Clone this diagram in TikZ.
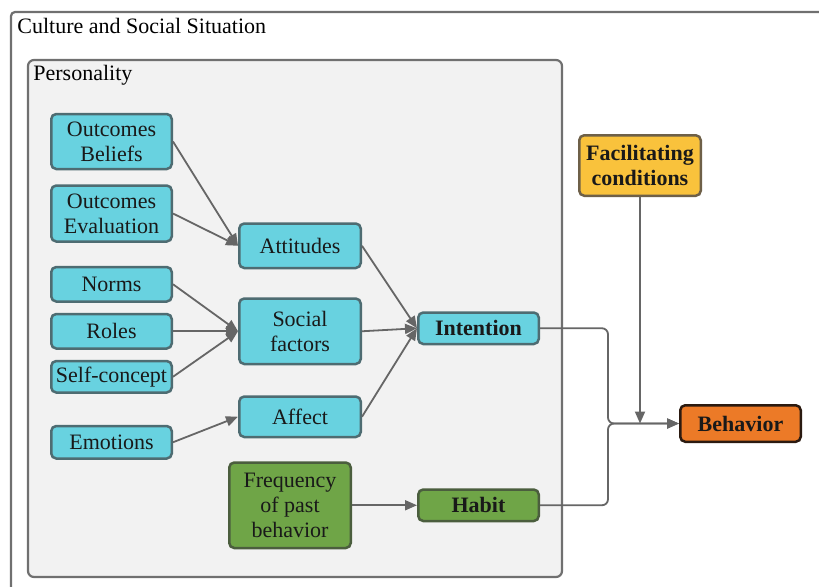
\documentclass[tikz,border=0pt]{standalone}
\usepackage{fontspec}
\setmainfont{Liberation Serif}
\usetikzlibrary{positioning, arrows.meta}

\definecolor{factorfill}{HTML}{68D2E0}
\definecolor{factordraw}{HTML}{4E6C72}
\definecolor{habitfill}{HTML}{6FA547}
\definecolor{habitdraw}{HTML}{4B5E3E}
\definecolor{condfill}{HTML}{F9C23C}
\definecolor{conddraw}{HTML}{6E6048}
\definecolor{actfill}{HTML}{EC7A27}
\definecolor{actdraw}{HTML}{2B1A10}
\definecolor{framedraw}{HTML}{707070}
\definecolor{framefill}{HTML}{F2F2F2}
\definecolor{linkgray}{HTML}{666666}

\begin{document}
\begin{tikzpicture}[
    x = 1pt, y = 1pt,
    > = {Triangle[length = 6pt, width = 5pt]},
    font = \fontsize{11}{12.5}\selectfont,
    link/.style   = {->, draw = linkgray, fill = linkgray, line width = .9pt},
    box/.style    = {rectangle, rounded corners = 2.5pt, line width = 1.25pt,
                     align = center, inner sep = 2pt, minimum width = 60.25pt,
                     text = black!90},
    factor/.style = {box, draw = factordraw, fill = factorfill},
    habit/.style  = {box, draw = habitdraw, fill = habitfill},
    cond/.style   = {box, draw = conddraw, fill = condfill, font = \fontsize{11}{12.5}\selectfont\bfseries},
    act/.style    = {box, draw = actdraw, fill = actfill, font = \fontsize{11}{12.5}\selectfont\bfseries}
]

\useasboundingbox (0,0) rectangle (409.5,-293);
\fill[white] (0,0) rectangle (409.5,-293);

% Frames
\draw[framedraw, line width = 1.1pt, rounded corners = 2pt] (5.5,-6) rectangle (420,-305);
\node[anchor = base west, inner sep = 0pt] (culture) at (8.5,-16.5) {Culture and Social Situation};
\draw[framedraw, fill = framefill, line width = 1.1pt, rounded corners = 3pt] (14,-30) rectangle (281,-288.5);
\node[anchor = base west, inner sep = 0pt] (person) at (16.5,-40) {Personality};

% Left column
\node[factor, minimum height = 27.5pt] (beliefs) at (55.75,-70.75) {Outcomes\\Beliefs};
\node[factor, minimum height = 28pt, below = 7pt of beliefs]  (evaluation) {Outcomes\\Evaluation};
\node[factor, minimum height = 17.25pt, below = 11.5pt of evaluation] (norms) {Norms};
\node[factor, minimum height = 17.25pt, below = 5pt of norms]     (roles)    {Roles};
\node[factor, minimum height = 15.75pt, below = 5pt of roles]     (self)     {Self-concept};
\node[factor, minimum height = 16.25pt, below = 15.5pt of self] (emotions) {Emotions};

% Middle column
\node[factor, minimum width = 60.75pt, minimum height = 32.75pt, right = 32.5pt of roles] (social) {Social\\factors};
\node[factor, minimum width = 60.75pt, minimum height = 22.25pt, above = 14pt of social] (attitudes) {Attitudes};
\node[factor, minimum width = 60.75pt, minimum height = 20.25pt, below = 15pt of social]  (affect)    {Affect};
\node[habit, minimum width = 60.75pt, minimum height = 42.75pt, below = 11.5pt of affect, xshift = -5pt] (frequency) {Frequency\\of past\\behavior};

% Right column
\node[factor, minimum height = 15.75pt, right = 27.5pt of social, yshift = 1.5pt,
      font = \fontsize{11}{12.5}\selectfont\bfseries] (intention) {Intention};
\node[habit, minimum height = 15.75pt, right = 32.5pt of frequency,
      font = \fontsize{11}{12.5}\selectfont\bfseries] (habitnode) {Habit};
\node[cond, minimum width = 60.75pt, minimum height = 30.25pt] (conditions) at (320,-82.75) {Facilitating\\conditions};
\node[act, minimum height = 18.25pt] (behavior) at (370.25,-211.75) {Behavior};
\coordinate[left = 35.5pt of behavior.west] (join);

% Links
\draw[link] (beliefs.east)    -- (attitudes.west);
\draw[link] (evaluation.east) -- (attitudes.west);
\draw[link] (norms.east)      -- (social.west);
\draw[link] (roles.east)      -- (social.west);
\draw[link] (self.east)       -- (social.west);
\draw[link] (emotions.east)   -- (affect.west);

\draw[link] (attitudes.east) -- (intention.west);
\draw[link] (social.east)    -- (intention.west);
\draw[link] (affect.east)    -- (intention.west);
\draw[link] (frequency.east) -- (habitnode.west);

\draw[link, fill = none, rounded corners = 3pt] (intention.east) -| (join) -- (behavior.west);
\draw[link, fill = none, rounded corners = 3pt] (habitnode.east) -| (join) -- (behavior.west);
\draw[link] (conditions.south) -- (conditions.south |- join);

\end{tikzpicture}
\end{document}
